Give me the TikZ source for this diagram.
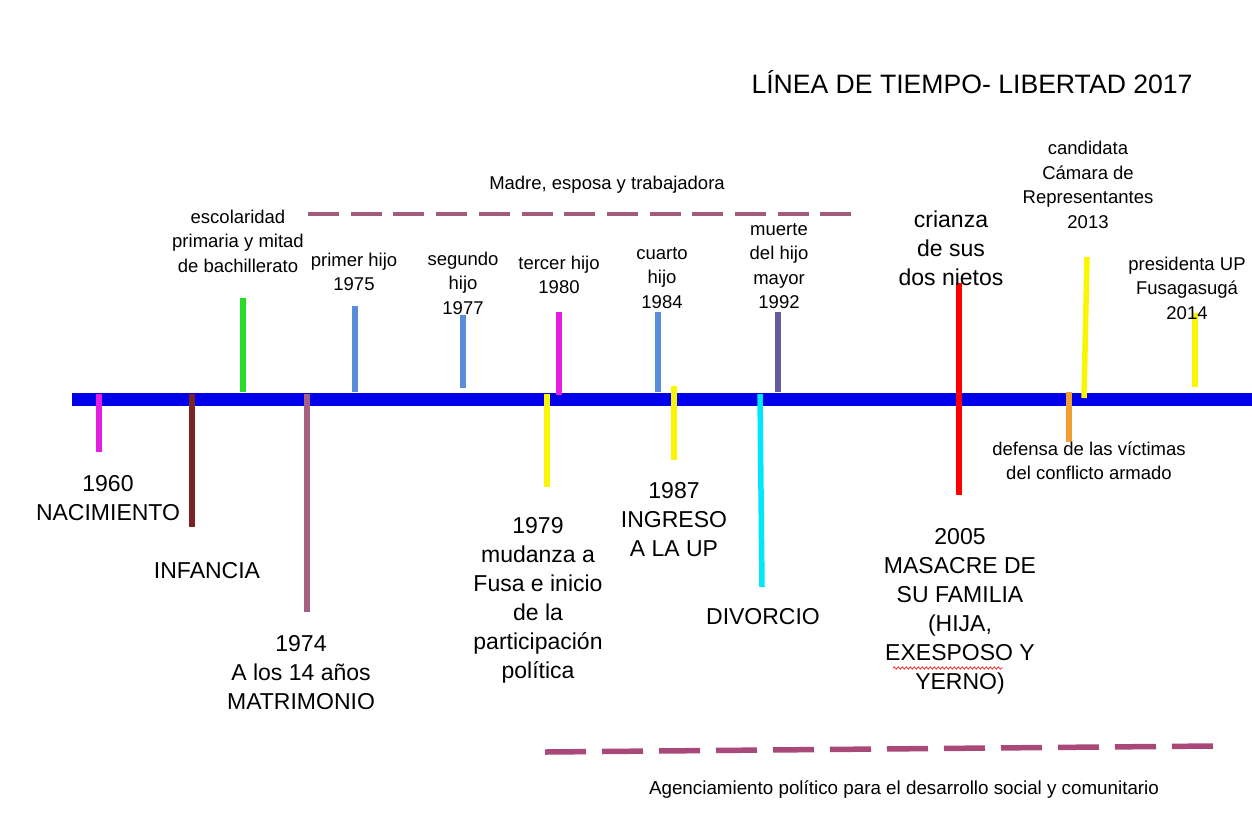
\documentclass[tikz,border=0pt]{standalone}
\usepackage{fontspec}
\setmainfont{Liberation Sans}
\usetikzlibrary{decorations.pathmorphing}
\definecolor{tlblue}{RGB}{0,0,235}
\definecolor{tlmag}{RGB}{230,30,225}
\definecolor{tlbrown}{RGB}{125,35,35}
\definecolor{tlmauve}{RGB}{165,95,130}
\definecolor{tlgreen}{RGB}{40,220,40}
\definecolor{tlsky}{RGB}{90,140,220}
\definecolor{tlyellow}{RGB}{250,245,0}
\definecolor{tlcyan}{RGB}{0,230,250}
\definecolor{tlpurple}{RGB}{105,90,155}
\definecolor{tlred}{RGB}{250,0,0}
\definecolor{tlorange}{RGB}{240,160,50}
\definecolor{dashtop}{RGB}{163,92,125}
\definecolor{dashbot}{RGB}{168,73,122}
\newcommand{\mktick}[5]{%
  \coordinate (#1a) at (#3,#4);
  \coordinate (#1b) at (#3,#5);
  \draw[tickline,#2] (#1a) -- (#1b);}
\begin{document}
\begin{tikzpicture}[x=1pt,y=-1pt,
  bigtxt/.style={align=center,inner sep=0pt,font=\fontsize{23}{29}\selectfont},
  smalltxt/.style={align=center,inner sep=0pt,font=\fontsize{18.5}{24.5}\selectfont},
  tickline/.style={line width=5.5pt}]
\useasboundingbox (0,0) rectangle (1252,815);
\fill[white] (0,0) rectangle (1252,815);
% title
\node[inner sep=0pt,font=\fontsize{26.6}{32}\selectfont] (title) at (972,82) {LÍNEA DE TIEMPO- LIBERTAD 2017};
% main line
\coordinate (bl) at (72,399);
\coordinate (br) at (1252,399);
\draw[line width=13pt,tlblue] (bl) -- (br);
% ticks above
\mktick{esc}{tlgreen}{243}{298}{392}
\mktick{h75}{tlsky}{355}{306}{392}
\mktick{h77}{tlsky}{463}{315}{388}
\mktick{h80}{tlmag}{559}{312}{395}
\mktick{h84}{tlsky}{658}{312}{392}
\mktick{m92}{tlpurple}{778}{312}{392}
\mktick{cri}{tlred}{959}{283}{495}
\mktick{p14}{tlyellow}{1195}{313}{387}
\coordinate (c13a) at (1087,257);
\coordinate (c13b) at (1084,398);
\draw[tickline,tlyellow] (c13a) -- (c13b);
% ticks below
\mktick{n60}{tlmag}{99}{394}{452}
\mktick{inf}{tlbrown}{192}{394}{527}
\mktick{m74}{tlmauve}{307}{394}{612}
\mktick{f79}{tlyellow}{547}{394}{487}
\mktick{u87}{tlyellow}{674}{386}{460}
\mktick{def}{tlorange}{1069}{392}{442}
\coordinate (diva) at (760,394);
\coordinate (divb) at (762,587);
\draw[tickline,tlcyan] (diva) -- (divb);
% dashed periods
\coordinate (mda) at (308,214);
\coordinate (mdb) at (853,214);
\draw[line width=4.5pt,dashtop,dash pattern=on 31pt off 11.7pt] (mda) -- (mdb);
\coordinate (aga) at (545,752);
\coordinate (agb) at (1214,746);
\draw[line width=5.5pt,dashbot,dash pattern=on 41pt off 16pt] (aga) -- (agb);
% labels above
\node[smalltxt] (madre) at (607,185) {Madre, esposa y trabajadora};
\node[smalltxt] (escol) at (238,241) {escolaridad\\primaria y mitad\\de bachillerato};
\node[smalltxt] (l75) at (354,272) {primer hijo\\1975};
\node[smalltxt] (l77) at (463,283) {segundo\\hijo\\1977};
\node[smalltxt] (l80) at (559,275) {tercer hijo\\1980};
\node[smalltxt] (l84) at (662,278) {cuarto\\hijo\\1984};
\node[smalltxt] (l92) at (779,266) {muerte\\del hijo\\mayor\\1992};
\node[bigtxt] (lcri) at (951,248) {crianza\\de sus\\dos nietos};
\node[smalltxt] (l13) at (1088,185) {candidata\\Cámara de\\Representantes\\2013};
\node[smalltxt] (l14) at (1187,288) {presidenta UP\\Fusagasugá\\2014};
% labels below
\node[bigtxt] (l60) at (108,498) {1960\\NACIMIENTO};
\node[bigtxt] (linf) at (207,571) {INFANCIA};
\node[bigtxt] (l74) at (301,673) {1974\\A los 14 años\\MATRIMONIO};
\node[bigtxt] (l79) at (538,600) {1979\\mudanza a\\Fusa e inicio\\de la\\participación\\política};
\node[bigtxt] (l87) at (674,520) {1987\\INGRESO\\A LA UP};
\node[bigtxt] (ldiv) at (763,617) {DIVORCIO};
\node[smalltxt] (ldef) at (1089,461) {defensa de las víctimas\\del conflicto armado};
\node[bigtxt] (l05) at (960,611) {2005\\MASACRE DE\\SU FAMILIA\\(HIJA,\\EXESPOSO Y\\YERNO)};
\draw[red!80,line width=0.8pt,decorate,decoration={snake,amplitude=1.2pt,segment length=4pt}] (893,668) -- (1003,668);
\node[inner sep=0pt,font=\fontsize{18.8}{22}\selectfont] (lag) at (904,790) {Agenciamiento político para el desarrollo social y comunitario};
\end{tikzpicture}
\end{document}
